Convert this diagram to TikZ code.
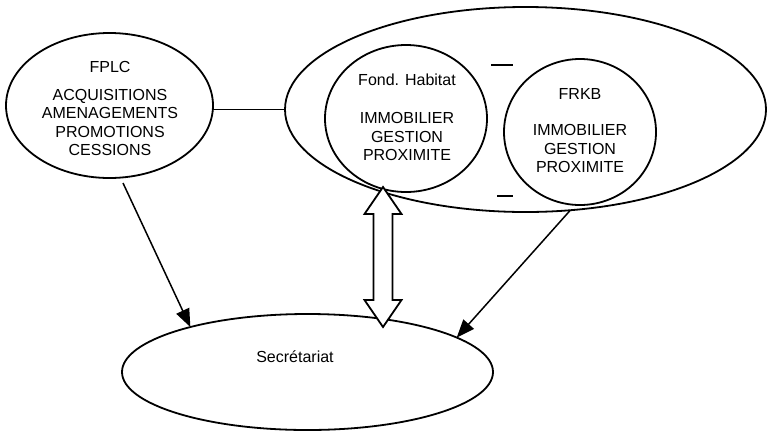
\documentclass[tikz,border=0pt]{standalone}
\usepackage{fontspec}
\setmainfont{Liberation Sans}
\usetikzlibrary{shapes.geometric,arrows.meta}
\begin{document}
\begin{tikzpicture}[x=1pt,y=-1pt, line width=1.8pt,
  shapeell/.style={draw, ellipse, inner sep=0pt, outer sep=0pt},
  txt/.style={font=\fontsize{16}{18.3}\selectfont, align=center, inner sep=0pt},
  conn/.style={-{Triangle[length=18pt,width=14pt]}, line width=1.5pt},
  dashmark/.style={line width=1.5pt}]
\useasboundingbox (0,0) rectangle (767,432);

% shapes
\node[shapeell, minimum width=207pt, minimum height=145pt] (fplc) at (109.5,105.5) {};
\node[shapeell, minimum width=481pt, minimum height=205pt] (big) at (525.5,109.5) {};
\node[shapeell, minimum width=162pt, minimum height=147pt] (fond) at (406,118.5) {};
\node[shapeell, minimum width=152pt, minimum height=146pt] (frkb) at (580,132) {};
\node[shapeell, minimum width=371pt, minimum height=116pt] (sec) at (307.5,372) {};

% texts
\node[txt] (fplct) at (110,67) {FPLC};
\node[txt] (fplcl) at (110,122.5) {ACQUISITIONS\\AMENAGEMENTS\\PROMOTIONS\\CESSIONS};
\node[txt] (fondt) at (407,80) {Fond. Habitat};
\node[txt] (fondl) at (407,136.5) {IMMOBILIER\\GESTION\\PROXIMITE};
\node[txt] (frkbt) at (580,94) {FRKB};
\node[txt] (frkbl) at (580,148.5) {IMMOBILIER\\GESTION\\PROXIMITE};
\node[txt] (sect) at (295,357) {Secrétariat};

% dashes
\draw[dashmark] (491,65) -- (513,65);
\draw[dashmark] (497,196) -- (513,196);

% connectors
\draw[line width=1.5pt] (big.west) -- (fplc.east |- big.west);
\coordinate (fs) at (123,183);
\draw[conn] (fs) -- (sec.159);
\draw[conn] (big.-66.8) -- (sec.13.1);

% double arrow
\coordinate (dt) at (383,187);
\coordinate (db) at (383,327);
\draw[fill=white, line width=1.8pt, line join=miter]
  (dt) -- ++(18.5,27) -- ++(-9,0) -- ++(0,86) -- ++(9,0) -- (db)
  -- ++(-18.5,-27) -- ++(9,0) -- ++(0,-86) -- ++(-9,0) -- cycle;
\end{tikzpicture}
\end{document}
